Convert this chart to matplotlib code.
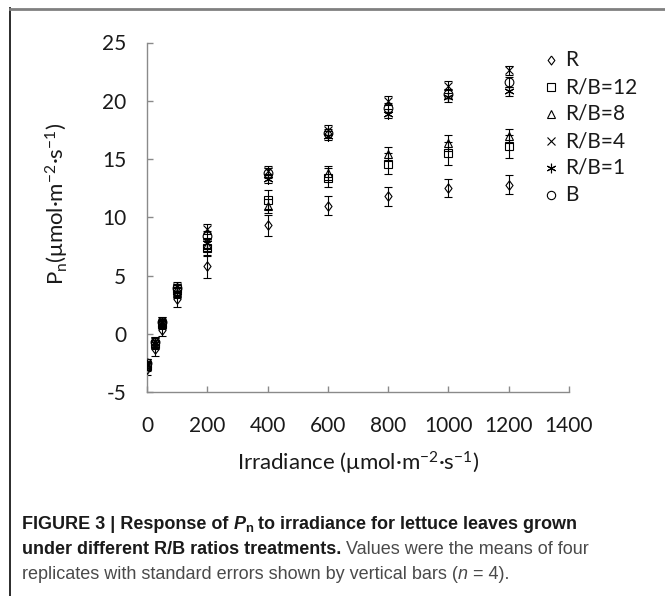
import matplotlib
matplotlib.use("Agg")
import matplotlib.pyplot as plt
from matplotlib.lines import Line2D
from matplotlib import font_manager as fm

W, H = 665, 596
DPI = 100

names = {f.name for f in fm.fontManager.ttflist}
MAIN_FONT = "Lato" if "Lato" in names else "DejaVu Sans"
CAP_FONT = "Liberation Sans" if "Liberation Sans" in names else "DejaVu Sans"

plt.rcParams["font.family"] = [MAIN_FONT, "DejaVu Sans"]
plt.rcParams["axes.unicode_minus"] = False
plt.rcParams["mathtext.default"] = "regular"

# ---------------- data ----------------
irradiance = [0, 25, 50, 100, 200, 400, 600, 800, 1000, 1200]
series_names = ["R", "R/B=12", "R/B=8", "R/B=4", "R/B=1", "B"]
pn_R = [-3.0, -1.3, 0.3, 3.0, 5.8, 9.3, 11.0, 11.8, 12.5, 12.8]
pn_RB12 = [-2.8, -0.9, 0.8, 3.8, 7.4, 11.5, 13.4, 14.6, 15.5, 16.1]
pn_RB8 = [-2.6, -0.8, 0.9, 3.5, 7.6, 11.0, 13.8, 15.4, 16.4, 17.0]
pn_RB4 = [-2.5, -0.6, 1.1, 4.0, 9.0, 14.0, 17.5, 20.0, 21.3, 22.6]
pn_RB1 = [-2.7, -0.8, 0.8, 3.6, 7.8, 13.3, 17.0, 18.9, 20.3, 20.8]
pn_B = [-2.5, -0.7, 1.0, 3.9, 8.4, 13.8, 17.2, 19.4, 20.6, 21.6]
se_R = [0.5, 0.6, 0.5, 0.7, 1.0, 0.9, 0.8, 0.8, 0.8, 0.8]
se_RB12 = [0.4, 0.4, 0.4, 0.5, 0.7, 0.8, 0.8, 0.9, 1.0, 1.0]
se_RB8 = [0.3, 0.3, 0.3, 0.4, 0.5, 0.6, 0.6, 0.6, 0.7, 0.6]
se_RB4 = [0.3, 0.3, 0.3, 0.4, 0.4, 0.4, 0.4, 0.4, 0.4, 0.4]
se_RB1 = [0.3, 0.3, 0.3, 0.4, 0.4, 0.4, 0.4, 0.4, 0.4, 0.4]
se_B = [0.3, 0.3, 0.3, 0.4, 0.4, 0.4, 0.4, 0.4, 0.4, 0.4]
x_ticks = [0, 200, 400, 600, 800, 1000, 1200, 1400]
y_ticks = [-5, 0, 5, 10, 15, 20, 25]

values = [pn_R, pn_RB12, pn_RB8, pn_RB4, pn_RB1, pn_B]
errors = [se_R, se_RB12, se_RB8, se_RB4, se_RB1, se_B]
diamond = [(0, 1), (0.75, 0), (0, -1), (-0.75, 0), (0, 1)]
markers = [diamond, "s", "^", "x", (6, 2, 0), "o"]
msizes = [6.8, 5.8, 6.3, 6.3, 7.2, 6.3]

fig = plt.figure(figsize=(W / DPI, H / DPI), dpi=DPI)
fig.patch.set_facecolor("white")

def px(x):
    return x / W

def py(y):
    return 1 - y / H

ax = fig.add_axes([px(147), py(392), px(569) - px(147), py(42.5) - py(392)])
ax.set_xlim(0, 1400)
ax.set_ylim(-5, 25)

for vals, errs, m, ms in zip(values, errors, markers, msizes):
    ax.errorbar(irradiance, vals, yerr=errs, fmt="none", ecolor="black",
                elinewidth=0.8, capsize=3, capthick=0.8, zorder=2)
    ax.plot(irradiance, vals, linestyle="none", marker=m, markersize=ms,
            markerfacecolor="none", markeredgecolor="black",
            markeredgewidth=0.8, color="black", zorder=3)

for s in ["top", "right"]:
    ax.spines[s].set_visible(False)
for s in ["left", "bottom"]:
    ax.spines[s].set_color("#8a8a8a")
    ax.spines[s].set_linewidth(1.0)
ax.set_xticks(x_ticks)
ax.set_yticks(y_ticks)
ax.set_xticklabels([str(v) for v in x_ticks])
ax.set_yticklabels([str(v) for v in y_ticks])
ax.tick_params(axis="both", direction="in", length=4, width=1.0,
               color="#8a8a8a", labelsize=15, labelcolor="#1a1a1a")
ax.tick_params(axis="x", pad=17)
ax.tick_params(axis="y", pad=15)

fig.text(px(358), py(463), "Irradiance (μmol·m$^{-2}$·s$^{-1}$)",
         ha="center", va="center", fontsize=16, color="#1a1a1a")
fig.text(px(57), py(204), "P$_{n}$(μmol·m$^{-2}$·s$^{-1}$)",
         ha="center", va="center", rotation=90, fontsize=16, color="#1a1a1a")

# legend (drawn as marker + label rows)
LEG_X, LEG_TX, LEG_Y0, LEG_DY = 551, 565, 60, 27
for i, (name, m, ms) in enumerate(zip(series_names, markers, msizes)):
    yy = LEG_Y0 + LEG_DY * i
    fig.add_artist(Line2D([px(LEG_X)], [py(yy)], transform=fig.transFigure,
                          linestyle="none", marker=m, markersize=ms * 0.95,
                          markerfacecolor="none", markeredgecolor="black",
                          markeredgewidth=0.8))
    fig.text(px(LEG_TX), py(yy), name, ha="left", va="center",
             fontsize=15, color="#1a1a1a")

# outer frame
fig.add_artist(Line2D([px(9.5), px(9.5)], [py(8), 0], transform=fig.transFigure,
                      color="#1a1a1a", linewidth=1.3))
fig.add_artist(Line2D([px(9.5), 1], [py(8.5), py(8.5)], transform=fig.transFigure,
                      color="#808080", linewidth=2.0))

# caption
renderer = fig.canvas.get_renderer()
BOLD = dict(fontweight="bold", color="#1a1a1a")
REG = dict(color="#4a4a4a")

def piece_kw(kw, size):
    kw = dict(kw)
    dy = kw.pop("dy", 0)
    scale = kw.pop("scale", 1.0)
    base = dict(fontfamily=CAP_FONT, fontsize=size * scale, va="baseline", ha="left")
    base.update(kw)
    return base, dy

def draw_line(x0, y0, pieces, size, draw=True):
    x = x0
    for s, kw in pieces:
        base, dy = piece_kw(kw, size)
        t = fig.text(px(x), py(y0 + dy), s, **base)
        w = t.get_window_extent(renderer).width
        if not draw:
            t.remove()
        x += w
    return x - x0

line1 = [
    ("FIGURE 3 | Response of ", BOLD),
    ("P", dict(BOLD, fontstyle="italic")),
    ("n", dict(BOLD, scale=0.72, dy=3)),
    (" to irradiance for lettuce leaves grown", BOLD),
]
line2 = [
    ("under different R/B ratios treatments. ", BOLD),
    ("Values were the means of four", REG),
]
line3 = [
    ("replicates with standard errors shown by vertical bars (", REG),
    ("n", dict(REG, fontstyle="italic")),
    (" = 4).", REG),
]
trial = 13.0
w1 = draw_line(22, 529, line1, trial, draw=False)
CAP_SIZE = min(trial * (577 - 22) / w1, 16.0)
draw_line(22, 529, line1, CAP_SIZE)
draw_line(22, 554, line2, CAP_SIZE)
draw_line(22, 579, line3, CAP_SIZE)

fig.savefig("out.png", dpi=DPI, facecolor="white")
